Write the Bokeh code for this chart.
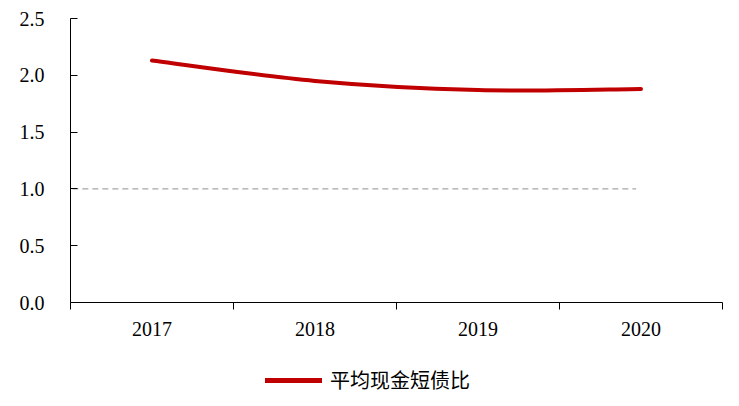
from bokeh.plotting import figure
from bokeh.models import FixedTicker, Legend, LegendItem, Range1d
from bokeh.layouts import column
from bokeh.embed import file_html
from bokeh.resources import INLINE

years = ["2017", "2018", "2019", "2020"]
ratio = [2.13, 1.95, 1.87, 1.88]
threshold = 1.0
y_ticks = [0.0, 0.5, 1.0, 1.5, 2.0, 2.5]
series_name = "平均现金短债比"

n = len(years)
xc = [i + 0.5 for i in range(n)]

p = figure(width=739, height=350, output_backend="svg", toolbar_location=None,
           x_range=Range1d(0, n), y_range=Range1d(0, 2.5),
           min_border_left=70, min_border_right=17, min_border_top=18, min_border_bottom=48)
p.outline_line_color = None
p.grid.grid_line_color = None
p.background_fill_color = "white"
p.border_fill_color = "white"

# threshold dashed line
p.line(x=[-0.05, 3.47], y=[threshold, threshold], line_color="#A6A6A6", line_width=1.3,
       line_dash="6 4")

# smoothed line (Excel-like Catmull-Rom bezier)
pts = list(zip(xc, ratio))
x0s, y0s, x1s, y1s, cx0s, cy0s, cx1s, cy1s = [], [], [], [], [], [], [], []
for i in range(n - 1):
    p0 = pts[i - 1] if i > 0 else pts[i]
    p1 = pts[i]
    p2 = pts[i + 1]
    p3 = pts[i + 2] if i + 2 < n else pts[i + 1]
    x0s.append(p1[0]); y0s.append(p1[1])
    x1s.append(p2[0]); y1s.append(p2[1])
    cx0s.append(p1[0] + (p2[0] - p0[0]) / 6); cy0s.append(p1[1] + (p2[1] - p0[1]) / 6)
    cx1s.append(p2[0] - (p3[0] - p1[0]) / 6); cy1s.append(p2[1] - (p3[1] - p1[1]) / 6)
p.bezier(x0=x0s, y0=y0s, x1=x1s, y1=y1s, cx0=cx0s, cy0=cy0s, cx1=cx1s, cy1=cy1s,
         line_color="#C00000", line_width=4, line_cap="round")

# axes
yax = p.yaxis[0]
yax.ticker = FixedTicker(ticks=y_ticks)
yax.major_label_overrides = {t: f"{t:.1f}" for t in y_ticks}
yax.major_tick_in = 7
yax.major_tick_out = 0
yax.minor_tick_line_color = None
yax.major_label_standoff = 26
yax.major_label_text_font = "Liberation Serif"
yax.major_label_text_font_size = "20px"
yax.major_label_text_color = "black"
yax.axis_line_color = "black"
yax.major_tick_line_color = "black"

xax = p.xaxis[0]
xax.ticker = FixedTicker(ticks=xc, minor_ticks=list(range(n + 1)))
xax.major_label_overrides = {c: y for c, y in zip(xc, years)}
xax.major_tick_in = 0
xax.major_tick_out = 0
xax.minor_tick_in = 0
xax.minor_tick_out = 7
xax.minor_tick_line_color = "black"
xax.major_label_standoff = 12
xax.major_label_text_font = "Liberation Serif"
xax.major_label_text_font_size = "20px"
xax.major_label_text_color = "black"
xax.axis_line_color = "black"

# legend strip
lg = figure(width=739, height=56, output_backend="svg", toolbar_location=None,
            x_axis_type=None, y_axis_type=None, x_range=Range1d(0, 1), y_range=Range1d(0, 1),
            min_border=0)
lg.outline_line_color = None
lg.grid.grid_line_color = None
proxy = lg.line(x=[-10, -9], y=[-10, -10], line_color="#C00000", line_width=5, line_cap="round")
legend = Legend(items=[LegendItem(label=series_name, renderers=[proxy])],
                location=(195, 12), orientation="horizontal",
                label_text_font="Noto Sans CJK SC", label_text_font_size="20px",
                label_text_color="black",
                glyph_width=57, glyph_height=20, label_standoff=8,
                border_line_color=None, background_fill_alpha=0, margin=0, padding=0)
lg.add_layout(legend, "center")

open("out.html", "w").write(file_html(column(p, lg, spacing=0), INLINE))
